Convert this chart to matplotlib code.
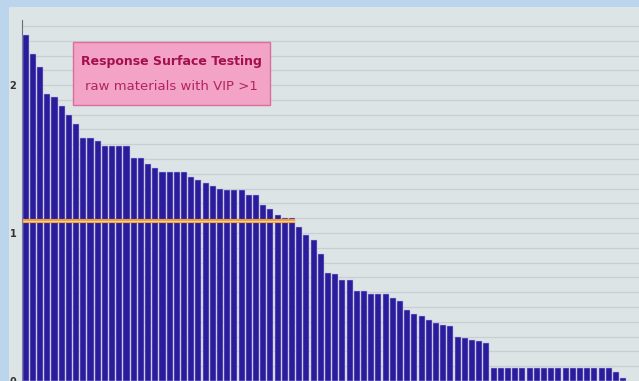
import numpy as np
import matplotlib
matplotlib.use('Agg')
import matplotlib.pyplot as plt
from matplotlib.ticker import MultipleLocator
from matplotlib.patches import Rectangle

# VIP score per raw material, sorted descending
vip = [2.34, 2.21, 2.12, 1.94, 1.92, 1.86, 1.80, 1.74, 1.64, 1.64,
       1.62, 1.59, 1.59, 1.59, 1.59, 1.51, 1.51, 1.47, 1.44, 1.41,
       1.41, 1.41, 1.41, 1.38, 1.36, 1.34, 1.32, 1.30, 1.29, 1.29,
       1.29, 1.26, 1.26, 1.19, 1.16, 1.12, 1.10, 1.10, 1.04, 0.99,
       0.95, 0.86, 0.73, 0.72, 0.68, 0.68, 0.61, 0.61, 0.59, 0.59,
       0.59, 0.56, 0.54, 0.48, 0.45, 0.44, 0.41, 0.39, 0.38, 0.37,
       0.30, 0.29, 0.28, 0.27, 0.26, 0.09, 0.09, 0.09, 0.09, 0.09,
       0.09, 0.09, 0.09, 0.09, 0.09, 0.09, 0.09, 0.09, 0.09, 0.09,
       0.09, 0.09, 0.06, 0.02]
threshold = 1.08
ytick_vals = [0, 1, 2]
box_title = 'Response Surface Testing'
box_subtitle = 'raw materials with VIP >1'

W, H = 639, 381
fig = plt.figure(figsize=(W / 100.0, H / 100.0), dpi=100)
fig.patch.set_facecolor('#BBD5EC')
# slide area (blue frame on left and top)
fig.patches.append(Rectangle((9.0 / W, 0), 1, (H - 7.0) / H, transform=fig.transFigure,
                             facecolor='#DCE4E6', edgecolor='none', zorder=-5))

ax = fig.add_axes([22.0 / W, 0, 1 - 22.0 / W, 361.0 / H])
ax.set_facecolor('none')

x = np.arange(len(vip))
ax.bar(x, vip, width=0.85, color='#2B1C9C', edgecolor='#B9B2EC', linewidth=0.35, zorder=3)

# threshold line across the materials above it
n_above = sum(1 for v in vip if v > threshold)
ax.hlines(threshold, -0.42, n_above - 1 + 0.42, color='#EE9A35', linewidth=3.0, zorder=4)
ax.hlines(threshold, -0.42, n_above - 1 + 0.42, color='#FFD58A', linewidth=0.9, zorder=5)

ax.set_xlim(-0.51, 85.2)
ax.set_ylim(0, 2.44)

ax.yaxis.set_minor_locator(MultipleLocator(0.1))
ax.set_yticks(ytick_vals)
ax.set_yticklabels([str(v) for v in ytick_vals], fontsize=7, fontweight='bold', color='#333333')
ax.tick_params(axis='y', which='both', length=0, pad=4)
ax.set_xticks([])
ax.set_axisbelow(True)
ax.grid(axis='y', which='both', color='#C8CED1', linewidth=0.9)

for side in ['top', 'right', 'bottom']:
    ax.spines[side].set_visible(False)
ax.spines['left'].set_color('#6A6F80')
ax.spines['left'].set_linewidth(0.8)

# pink annotation box
bx0, by0, bw, bh = 73.0, 42.0, 197.0, 63.0
fig.patches.append(Rectangle((bx0 / W, 1 - (by0 + bh) / H), bw / W, bh / H,
                             transform=fig.transFigure, facecolor='#F3A3C6',
                             edgecolor='#D86F9C', linewidth=1.0, zorder=6))
fig.text((bx0 + bw / 2) / W, 1 - 62.0 / H, box_title, ha='center', va='center',
         fontsize=9.0, fontweight='bold', color='#A3104C', zorder=7)
fig.text((bx0 + bw / 2) / W, 1 - 87.0 / H, box_subtitle, ha='center', va='center',
         fontsize=9.5, color='#B3245E', zorder=7)

fig.savefig('out.png', dpi=100)
